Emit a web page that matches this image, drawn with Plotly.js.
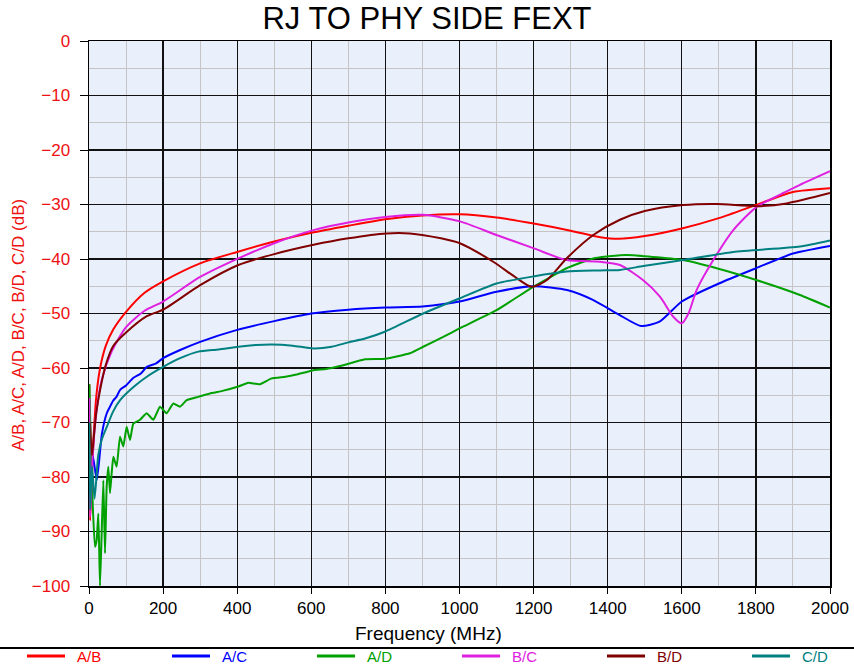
<!DOCTYPE html>
<html>
<head>
<meta charset="utf-8">
<script src="https://cdn.plot.ly/plotly-3.0.1.min.js"></script>
<style>html,body{margin:0;padding:0;background:#fff;}#chart{width:854px;height:664px;}</style>
</head>
<body>
<div id="chart"></div>
<script>
// Series names and colours
const seriesNames = ["A/B", "A/C", "A/D", "B/C", "B/D", "C/D"];
const seriesColors = ["#ff0000", "#0000ff", "#00a000", "#e020e0", "#800000", "#008080"];

// A/B
const fAB = [1, 3, 8, 13, 20, 30, 45, 65, 100, 150, 200, 300, 400, 500, 600, 700, 800, 900, 1000, 1100, 1200, 1300, 1380, 1430, 1500, 1600, 1700, 1800, 1900, 2000];
const vAB = [-63, -88, -80, -72, -65, -60, -56, -53, -49.7, -46.2, -44.1, -40.8, -38.7, -36.8, -35.2, -33.9, -32.7, -32, -31.8, -32.4, -33.5, -34.8, -36, -36.3, -35.8, -34.4, -32.5, -30.1, -27.7, -27];

// A/C
const fAC = [1, 4, 10, 21, 35, 48, 56, 65, 74, 84, 100, 120, 140, 156, 180, 200, 246, 300, 400, 500, 600, 700, 800, 900, 1000, 1100, 1200, 1290, 1360, 1430, 1490, 1540, 1600, 1700, 1800, 1900, 2000];
const vAC = [-66, -84, -76, -80.5, -72, -68.3, -67.2, -66, -65.3, -64, -63.2, -61.8, -61, -59.8, -59.2, -58.2, -56.7, -55.2, -53, -51.4, -50, -49.3, -48.9, -48.7, -47.8, -46, -45, -45.7, -47.5, -50.2, -52.3, -51.5, -47.8, -44.5, -41.7, -39, -37.6];

// A/D
const fAD = [1, 5, 10, 16, 20.7, 25.2, 29.7, 34.2, 38.7, 43.2, 47.7, 52.2, 56.7, 61.2, 65.7, 74.6, 83.7, 92.6, 101.6, 110.7, 119.6, 137.7, 155.6, 173.6, 191.6, 209.6, 227.6, 245.6, 263.6, 295, 331, 360, 403, 430, 460, 493, 530, 560, 606, 640, 680, 745, 800, 866, 902, 956, 1001, 1100, 1199, 1289, 1361, 1433, 1469, 1603, 1694, 1803, 1919, 2000];
const vAD = [-63, -75, -85, -92.8, -91.6, -86.7, -100, -90.3, -80.6, -94, -81.8, -78.1, -83, -79.3, -76.3, -78.1, -72.6, -74.4, -70.8, -73.2, -70.2, -69.5, -68.3, -69.5, -67.1, -68.3, -66.5, -67.1, -65.9, -65.3, -64.6, -64.2, -63.4, -62.7, -63, -61.9, -61.6, -61.2, -60.4, -60.2, -59.6, -58.4, -58.3, -57.3, -56.1, -54.3, -52.7, -49.4, -45.1, -41.7, -39.9, -39.3, -39.3, -40.2, -41.7, -43.9, -46.6, -48.9];

// B/C
const fBC = [1, 3, 10, 20, 35, 61, 100, 150, 200, 300, 403, 500, 606, 700, 800, 900, 1001, 1100, 1199, 1289, 1379, 1433, 1496, 1541, 1577, 1600, 1618, 1640, 1685, 1739, 1803, 1883, 1919, 2000];
const vBC = [-65.5, -87.3, -76, -68, -62, -57, -52.5, -49.5, -47.8, -43.3, -39.9, -37.1, -34.7, -33.3, -32.3, -31.9, -33.1, -35.6, -38, -40.2, -40.5, -41.1, -43.9, -46.9, -50.6, -51.8, -50, -45.7, -40.2, -34.7, -30.4, -27.6, -26.4, -23.9];

// B/D
const fBD = [3, 8, 13, 20, 30, 45, 65, 100, 156, 200, 300, 403, 500, 606, 700, 803, 866, 950, 1001, 1091, 1154, 1195, 1235, 1289, 1361, 1433, 1500, 1603, 1694, 1803, 1883, 2000];
const vBD = [-70, -76, -72.6, -68, -64, -59.5, -56, -53.5, -50.5, -49.3, -44.8, -41.1, -39.1, -37.4, -36.2, -35.3, -35.3, -36.2, -37.1, -40.5, -43.5, -45.1, -43.9, -39.9, -35.6, -32.8, -31.2, -30.1, -29.9, -30.3, -29.8, -27.9];

// C/D
const fCD = [1, 3, 8, 15, 25, 35, 48, 65, 84, 120, 156, 200, 246, 295, 350, 403, 450, 493, 550, 606, 655, 700, 745, 800, 902, 1001, 1100, 1199, 1289, 1379, 1433, 1496, 1603, 1739, 1919, 2000];
const vCD = [-70, -86, -78, -84, -76, -73, -70.8, -68, -65.9, -63.5, -61.6, -59.8, -58.2, -57, -56.6, -56.1, -55.8, -55.7, -55.9, -56.4, -56.1, -55.3, -54.6, -53.3, -50, -47.2, -44.5, -43.2, -42.3, -42.1, -42, -41.3, -40.2, -38.7, -37.7, -36.6];

const xs = [fAB, fAC, fAD, fBC, fBD, fCD];
const ys = [vAB, vAC, vAD, vBC, vBD, vCD];
const smooth = [0.7, 0.6, 0.4, 0.7, 0.7, 0.6];

const FONT = "Liberation Sans, Arial, sans-serif";

// plot area in pixels (for converting legend layout positions to paper coordinates)
const PL = 89, PR = 830, PT = 41, PB = 586;
const px2x = p => (p - PL) / (PR - PL);
const py2y = p => (PB - p) / (PB - PT);

const traces = seriesNames.map((n, i) => ({
  x: xs[i], y: ys[i], type: "scatter", mode: "lines", name: n, showlegend: false,
  line: {color: seriesColors[i], width: 2, shape: "spline", smoothing: smooth[i]}
}));

// custom bottom legend (layout only)
const legShapes = [], legAnn = [];
seriesNames.forEach((n, i) => {
  const x0 = 27 + 145 * i;
  legShapes.push({type: "line", xref: "paper", yref: "paper",
    x0: px2x(x0), x1: px2x(x0 + 38), y0: py2y(656), y1: py2y(656),
    line: {color: seriesColors[i], width: 3}});
  legAnn.push({text: n, xref: "paper", yref: "paper", x: px2x(x0 + 48), y: py2y(656),
    xanchor: "left", yanchor: "middle", showarrow: false,
    font: {size: 15, color: seriesColors[i], family: FONT}});
});

const layout = {
  width: 854, height: 664,
  margin: {l: 89, r: 24, t: 41, b: 78},
  paper_bgcolor: "#ffffff",
  plot_bgcolor: "#eaf0fb",
  font: {family: FONT},
  showlegend: false,
  title: {text: "RJ TO PHY SIDE FEXT", x: 0.5, xref: "container", y: 0.973, yref: "container", yanchor: "middle",
          font: {size: 31, color: "#000", family: FONT}},
  xaxis: {
    range: [0, 2000], tick0: 0, dtick: 200, autorange: false,
    showgrid: true, gridcolor: "#111", gridwidth: 1.3,
    minor: {dtick: 100, showgrid: true, gridcolor: "#c4c4c4", gridwidth: 1, ticks: ""},
    ticks: "outside", ticklen: 6, tickcolor: "#000",
    showline: true, linecolor: "#000", linewidth: 1.5, mirror: true,
    zeroline: false,
    tickfont: {size: 17, color: "#000", family: FONT}
  },
  yaxis: {
    range: [-100, 0], tick0: 0, dtick: 10, autorange: false,
    showgrid: true, gridcolor: "#111", gridwidth: 1.3,
    minor: {dtick: 5, showgrid: true, gridcolor: "#c4c4c4", gridwidth: 1, ticks: ""},
    ticks: "outside", ticklen: 8, tickcolor: "#000", ticklabelstandoff: 6,
    showline: true, linecolor: "#000", linewidth: 1.5, mirror: true,
    zeroline: false,
    tickfont: {size: 17, color: "#ee1111", family: FONT}
  },
  annotations: [{
    text: "Frequency (MHz)", xref: "paper", yref: "paper",
    x: px2x(428), y: py2y(633), xanchor: "center", yanchor: "middle", showarrow: false,
    font: {size: 19, color: "#000", family: FONT}
  }, {
    text: "A/B, A/C, A/D, B/C, B/D, C/D (dB)", xref: "paper", yref: "paper",
    x: px2x(18), y: py2y(325), xanchor: "center", yanchor: "middle", textangle: -90, showarrow: false,
    font: {size: 17, color: "#ee1111", family: FONT}
  }].concat(legAnn),
  shapes: [{
    type: "line", xref: "paper", yref: "paper",
    x0: px2x(0), x1: px2x(854), y0: py2y(648), y1: py2y(648),
    line: {color: "#000", width: 2}
  }].concat(legShapes)
};

Plotly.newPlot("chart", traces, layout, {displayModeBar: false, staticPlot: true});
</script>
</body>
</html>
